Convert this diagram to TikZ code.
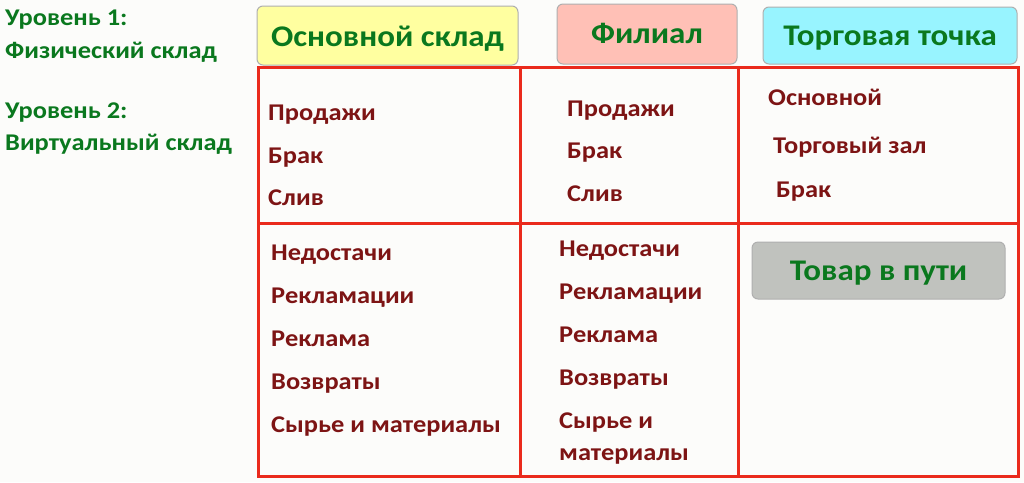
\documentclass[tikz,border=0pt]{standalone}
\usepackage{fontspec}
\setmainfont{Carlito}[FakeStretch=1.1]
\definecolor{gridred}{RGB}{234,42,28}
\definecolor{txtred}{RGB}{125,20,20}
\definecolor{txtgreen}{RGB}{10,120,30}
\definecolor{fillyellow}{RGB}{255,255,160}
\definecolor{fillpink}{RGB}{255,192,182}
\definecolor{fillcyan}{RGB}{152,244,255}
\definecolor{fillgrey}{RGB}{192,194,190}
\definecolor{boxborder}{RGB}{175,175,175}
\definecolor{bg}{RGB}{252,252,250}
\tikzset{
  hdrbox/.style={draw=boxborder, line width=1pt, rounded corners=6pt, inner sep=0pt,
    text=txtgreen, font=\bfseries\fontsize{30}{34}\selectfont},
  cell/.style={draw=gridred, line width=2.8pt, inner sep=0pt},
  item/.style={anchor=base west, inner sep=0pt, text=txtred, font=\bfseries\fontsize{24}{28}\selectfont},
  lvl/.style={anchor=base west, inner sep=0pt, text=txtgreen, font=\bfseries\fontsize{24}{28}\selectfont}
}
\begin{document}
\begin{tikzpicture}[x=1pt,y=-1pt]
\fill[bg] (0,0) rectangle (1024,482);
\useasboundingbox (0,0) rectangle (1024,482);
% level labels
\node[lvl] (l1a) at (5,25) {Уровень 1:};
\node[lvl] (l1b) at (5,58) {Физический склад};
\node[lvl] (l2a) at (5,118) {Уровень 2:};
\node[lvl] (l2b) at (5,150) {Виртуальный склад};
% header boxes
\path[hdrbox, fill=fillyellow] (257,6) rectangle (518,65);
\node[hdrbox, draw=none, anchor=base] (h1) at (387.5,46) {Основной склад};
\path[hdrbox, fill=fillpink] (557,4) rectangle (737,64);
\node[hdrbox, draw=none, anchor=base] (h2) at (647,43) {Филиал};
\path[hdrbox, fill=fillcyan] (763,7) rectangle (1017,64);
\node[hdrbox, draw=none, anchor=base] (h3) at (890,45) {Торговая точка};
% grid cells
\node[cell, minimum width=262pt, minimum height=156pt, anchor=north west] (c11) at (257,66) {};
\node[cell, minimum width=218pt, minimum height=156pt, anchor=north west] (c12) at (519,66) {};
\node[cell, minimum width=280pt, minimum height=156pt, anchor=north west] (c13) at (737,66) {};
\node[cell, minimum width=262pt, minimum height=253pt, anchor=north west] (c21) at (257,222) {};
\node[cell, minimum width=218pt, minimum height=253pt, anchor=north west] (c22) at (519,222) {};
\node[cell, minimum width=280pt, minimum height=253pt, anchor=north west] (c23) at (737,222) {};
% column 1 top
\node[item] (a1) at (268,120) {Продажи};
\node[item] (a2) at (268,163) {Брак};
\node[item] (a3) at (268,205) {Слив};
% column 2 top
\node[item] (b1) at (567,116) {Продажи};
\node[item] (b2) at (567,158) {Брак};
\node[item] (b3) at (567,201) {Слив};
% column 3 top
\node[item] (t1) at (768,105) {Основной};
\node[item] (t2) at (773,153) {Торговый зал};
\node[item] (t3) at (776,197) {Брак};
% column 1 bottom
\node[item] (d1) at (271,260) {Недостачи};
\node[item] (d2) at (271,303) {Рекламации};
\node[item] (d3) at (271,346) {Реклама};
\node[item] (d4) at (271,389) {Возвраты};
\node[item] (d5) at (271,432) {Сырье и материалы};
% column 2 bottom
\node[item] (e1) at (559,256) {Недостачи};
\node[item] (e2) at (559,299) {Рекламации};
\node[item] (e3) at (559,342) {Реклама};
\node[item] (e4) at (559,385) {Возвраты};
\node[item] (e5) at (559,428) {Сырье и};
\node[item] (e6) at (559,460) {материалы};
% goods in transit
\path[hdrbox, fill=fillgrey] (752,242) rectangle (1005,299);
\node[hdrbox, draw=none, anchor=base] (tr) at (878.5,280) {Товар в пути};
\end{tikzpicture}
\end{document}
